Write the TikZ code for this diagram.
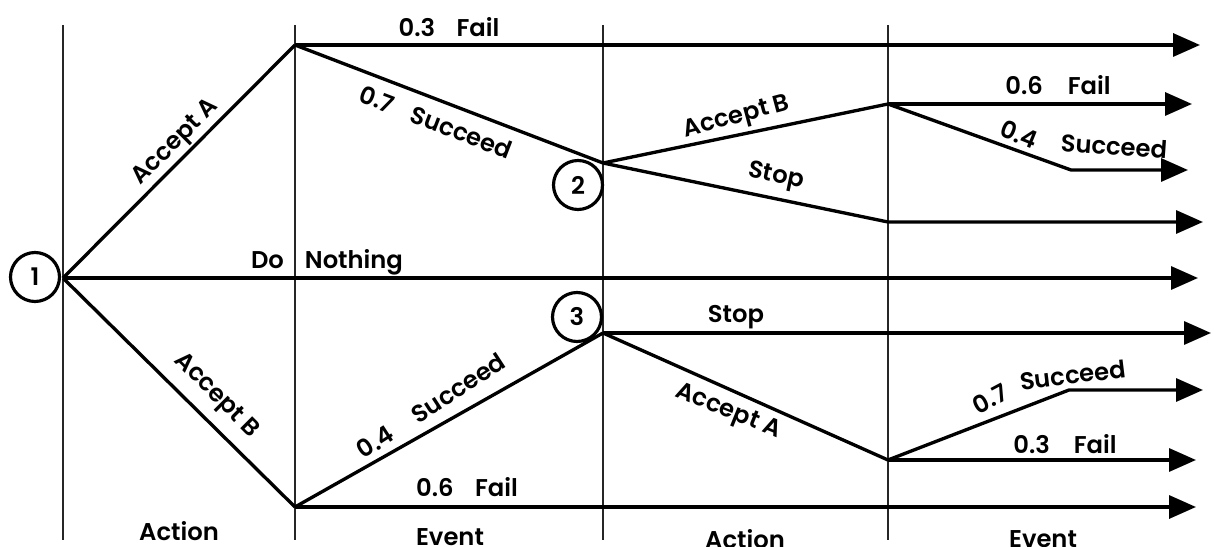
\documentclass[tikz,border=0pt]{standalone}
\usepackage{fontspec}
\setmainfont{Poppins SemiBold}
\usetikzlibrary{arrows.meta}
\begin{document}
\begin{tikzpicture}[x=0.02cm,y=-0.02cm,
  grid/.style={line width=1.1pt, black!85},
  branch/.style={line width=1.9pt, line join=round},
  arr/.style={branch, -{Triangle[length=0.54cm,width=0.46cm]}},
  lbl/.style={inner sep=0pt, font=\fontsize{13.8}{16}\selectfont},
  chance/.style={circle, draw, line width=1.8pt, minimum size=0.98cm, inner sep=0pt, font=\fontsize{13.8}{16}\selectfont}]
\useasboundingbox (0,0) rectangle (1214,547);
% stage separators
\foreach \x in {63,295,603,888} \draw[grid] (\x,25) -- (\x,540);
% chance / decision nodes
\node[chance] (n1) at (35,277) {1};
\node[chance] (n2) at (578,185) {2};
\node[chance] (n3) at (577,317) {3};
\coordinate (r) at (63,278);
\coordinate (a) at (295,45);
\coordinate (f) at (295,507);
\coordinate (d2) at (603,163);
\coordinate (d3) at (603,333);
\coordinate (b) at (888,104);
\coordinate (bs) at (1071,170);
\coordinate (c) at (888,222);
\coordinate (e) at (888,460);
\coordinate (es) at (1069,390);
\coordinate (t1) at (1200,45);
\coordinate (t2) at (1192,104);
\coordinate (t3) at (1188,170);
\coordinate (t4) at (1203,222);
\coordinate (t5) at (1198,278);
\coordinate (t6) at (1211,333);
\coordinate (t7) at (1203,390);
\coordinate (t8) at (1196,460);
\coordinate (t9) at (1196,507);
% branches
\draw[branch] (r) -- (a);
\draw[branch] (r) -- (f);
\draw[arr] (r) -- (t5);
\draw[arr] (a) -- (t1);
\draw[branch] (a) -- (d2);
\draw[branch] (d2) -- (b);
\draw[arr] (d2) -- (c) -- (t4);
\draw[arr] (b) -- (t2);
\draw[arr] (b) -- (bs) -- (t3);
\draw[branch] (f) -- (d3);
\draw[arr] (f) -- (t9);
\draw[arr] (d3) -- (t6);
\draw[branch] (d3) -- (e);
\draw[arr] (e) -- (t8);
\draw[arr] (e) -- (es) -- (t7);
% labels
\node[lbl] (l1) at (449,27) {0.3\hspace{0.43cm}Fail};
\node[lbl, rotate=45] (l2) at (176,143) {Accept A};
\node[lbl, rotate=-21] (l3) at (436,122) {0.7\hspace{0.4cm}Succeed};
\node[lbl] (l4) at (327,262) {Do\hspace{0.42cm}Nothing};
\node[lbl, rotate=15] (l5) at (737,118) {Accept B};
\node[lbl, rotate=-12] (l6) at (776,177) {Stop};
\node[lbl] (l7) at (1058,85) {0.6\hspace{0.5cm}Fail};
\node[lbl, rotate=-22] (l8a) at (1019,134) {0.4};
\node[lbl, rotate=-4] (l8b) at (1114,146) {Succeed};
\node[lbl] (l9) at (736,317) {Stop};
\node[lbl, rotate=-22] (l10) at (728,412) {Accept A};
\node[lbl, rotate=28] (l11a) at (990,399) {0.7};
\node[lbl, rotate=7] (l11b) at (1073,375) {Succeed};
\node[lbl] (l12) at (1065,444) {0.3\hspace{0.48cm}Fail};
\node[lbl, rotate=-45] (l13) at (216,396) {Accept B};
\node[lbl, rotate=33] (l14a) at (375,442) {0.4};
\node[lbl, rotate=33] (l14b) at (458,388) {Succeed};
\node[lbl] (l15) at (467,487) {0.6\hspace{0.43cm}Fail};
\node[lbl] (l16) at (179,531) {Action};
\node[lbl] (l17) at (450,537) {Event};
\node[lbl] (l18) at (745,539) {Action};
\node[lbl] (l19) at (1043,539) {Event};
\end{tikzpicture}
\end{document}
